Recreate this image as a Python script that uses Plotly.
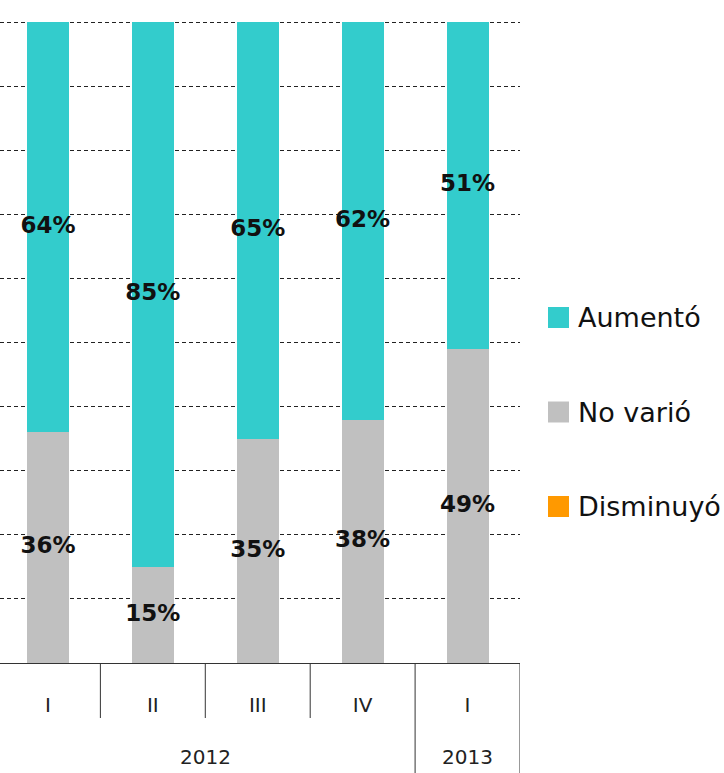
import plotly.graph_objects as go

years = ["2012", "2012", "2012", "2012", "2013"]
quarters = ["I", "II", "III", "IV", "I"]
series_names = ["Disminuyó", "No varió", "Aumentó"]
disminuyo = [0, 0, 0, 0, 0]
no_vario = [36, 15, 35, 38, 49]
aumento = [64, 85, 65, 62, 51]
colors = ["#FF9900", "#C0C0C0", "#33CCCC"]

W, H = 724, 773
ML, MR, MT, MB = 0, 204, 19, 110
PW, PH = W - ML - MR, H - MT - MB
YMAX = 100.5

def px_x(px):
    return (px - ML) / PW

def px_y(py):
    return (H - MB - py) / PH

cats = [f"{y} {q}" for y, q in zip(years, quarters)]
fig = go.Figure()
for name, vals, col in zip(series_names, [disminuyo, no_vario, aumento], colors):
    fig.add_trace(go.Bar(x=cats, y=vals, name=name, marker_color=col,
                         marker_line_width=0, width=0.4, showlegend=False))

# value labels centred on each segment
base = [0] * len(cats)
for vals in [disminuyo, no_vario, aumento]:
    keep = [i for i, v in enumerate(vals) if v > 0]
    fig.add_trace(go.Scatter(
        x=[cats[i] for i in keep],
        y=[base[i] + vals[i] / 2 for i in keep],
        text=[f"{vals[i]}%" for i in keep],
        mode="text", showlegend=False, cliponaxis=False, hoverinfo="skip",
        textfont=dict(family="DejaVu Sans", size=23, color="#111", weight="bold")))
    base = [b + v for b, v in zip(base, vals)]

shapes = []
annotations = []
# axis dividers: full height between years, short between quarters
for i in range(len(cats) + 1):
    full = i == 0 or i == len(cats) or years[i] != years[i - 1]
    shapes.append(dict(type="line", xref="x", yref="paper", x0=i - 0.5, x1=i - 0.5,
                       y0=0, y1=px_y(H if full else 718),
                       line=dict(color="#333", width=1)))

# year labels under their quarters
for yr in dict.fromkeys(years):
    idx = [i for i, y in enumerate(years) if y == yr]
    annotations.append(dict(xref="x", yref="paper", x=sum(idx) / len(idx), y=px_y(757),
                            xanchor="center", yanchor="middle", text=yr, showarrow=False,
                            font=dict(family="DejaVu Sans", size=20, color="#222")))

# legend (drawn manually, top entry first)
legend_rows = [("Aumentó", "#33CCCC", 317.5), ("No varió", "#C0C0C0", 412), ("Disminuyó", "#FF9900", 506.5)]
for label, col, cy in legend_rows:
    shapes.append(dict(type="rect", xref="paper", yref="paper",
                       x0=px_x(548), x1=px_x(569), y0=px_y(cy + 10.5), y1=px_y(cy - 10.5),
                       fillcolor=col, line=dict(width=0)))
    annotations.append(dict(xref="paper", yref="paper", x=px_x(576), y=px_y(cy),
                            xanchor="left", yanchor="middle", text=label, showarrow=False,
                            font=dict(family="DejaVu Sans", size=27, color="#111")))

fig.update_layout(
    barmode="stack",
    width=W, height=H,
    margin=dict(l=ML, r=MR, t=MT, b=MB, pad=0),
    plot_bgcolor="white", paper_bgcolor="white",
    shapes=shapes, annotations=annotations,
    showlegend=False,
    xaxis=dict(type="category", range=[-0.457, len(cats) - 0.5],
               showline=True, linecolor="#333", linewidth=1,
               tickvals=cats, ticktext=quarters,
               ticks="outside", ticklen=24, tickcolor="rgba(0,0,0,0)",
               tickfont=dict(family="DejaVu Sans", size=20, color="#222")),
    yaxis=dict(range=[0, YMAX], dtick=10, showticklabels=False, zeroline=False,
               showgrid=True, gridcolor="#222", gridwidth=1, griddash="4px,3px",
               fixedrange=True),
)

fig.write_html("out.html", config={"displayModeBar": False},
               post_script="document.body.style.margin='0';")
